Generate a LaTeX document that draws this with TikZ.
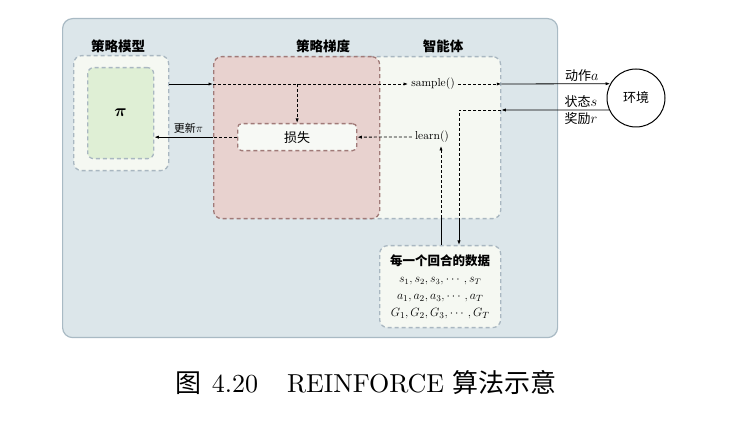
\documentclass[tikz,border=0pt]{standalone}
\usepackage{fontspec}
\usepackage{amsmath}
\newfontfamily\cjk{Noto Sans CJK SC}
\newfontfamily\capfont{lmroman10-regular.otf}
\usetikzlibrary{positioning, arrows.meta}

\definecolor{panelbg}{HTML}{DCE6EA}
\definecolor{panelline}{HTML}{A9BAC4}
\definecolor{lightbg}{HTML}{F5F8F2}
\definecolor{greenbg}{HTML}{DFEFD5}
\definecolor{pinkbg}{HTML}{E8D2CF}
\definecolor{brownline}{HTML}{A07A78}
\definecolor{grayline}{HTML}{A9B7C1}
\definecolor{lossbg}{HTML}{F7F9F5}

% math letters a bit larger than the CJK text around them
\newcommand{\symb}[1]{{\fontsize{15}{15}\selectfont$#1$}}

\begin{document}
\begin{tikzpicture}[
    x=1pt, y=-1pt,
    >={Latex[length=4.5pt, width=3.2pt]},
    panel/.style={rectangle, draw=panelline, fill=panelbg, line width=1.2pt,
                  rounded corners=10pt, anchor=north west, inner sep=0pt},
    region/.style={rectangle, draw, dashed, dash pattern=on 4pt off 3pt,
                   line width=1.3pt, rounded corners=8pt,
                   anchor=north west, inner sep=0pt},
    title/.style={font=\cjk\bfseries\fontsize{13.5}{16}\selectfont},
    lbl/.style={font=\cjk\fontsize{13}{15}\selectfont, inner sep=2pt},
    func/.style={font=\capfont\fontsize{11.5}{13}\selectfont, inner sep=3pt},
    flow/.style={line width=0.8pt},
    dashline/.style={flow, dash pattern=on 3pt off 2pt}
]
  \useasboundingbox (0,0) rectangle (745,443);

  % Frame
  \node[panel, minimum width=495pt, minimum height=319pt] (frame) at (62,18) {};

  % Policy model
  \node[region, draw=grayline, fill=lightbg,
        minimum width=95pt, minimum height=115pt] (model) at (73,55) {};
  \node[region, draw=grayline, fill=greenbg, rounded corners=6pt,
        minimum width=66pt, minimum height=91pt,
        font=\fontsize{17}{17}\selectfont] (policy) at (87,67) {$\boldsymbol{\pi}$};

  % Agent and policy gradient
  \node[region, draw=grayline, fill=lightbg,
        minimum width=170pt, minimum height=162pt] (agent) at (330,56) {};
  \node[region, draw=brownline, fill=pinkbg,
        minimum width=166pt, minimum height=162pt] (grad) at (213,56) {};
  \node[region, draw=brownline, fill=lossbg, rounded corners=4pt,
        minimum width=119pt, minimum height=27pt, lbl] (loss) at (237,123) {损失};

  % Titles
  \node[title] (modelt) at (118,46) {策略模型};
  \node[title] (gradt) at (323,46) {策略梯度};
  \node[title] (agentt) at (443,46) {智能体};

  % Agent methods
  \node[func] (sample) at (433,84) {sample()};
  \node[func] (learn) at (432,137) {learn()};

  % Environment
  \node[circle, draw, line width=1pt, minimum size=58pt, lbl] (env) at (636,98) {环境};

  % Episode data
  \node[region, draw=grayline, fill=lightbg,
        minimum width=121pt, minimum height=82pt, align=center,
        font=\fontsize{13}{17}\selectfont] (data) at (379,245)
    {{\cjk\bfseries\fontsize{12.5}{17}\selectfont 每一个回合的数据}\\
     {\fontsize{11.5}{17}\selectfont $s_1,s_2,s_3,\cdots,s_T$}\\
     $a_1,a_2,a_3,\cdots,a_T$\\
     $G_1,G_2,G_3,\cdots,G_T$};

  % Helper points
  \coordinate (obs) at (agent.east |- 0,110);
  \coordinate (bend) at (459,110);
  \coordinate (gate) at (bend |- agent.south);
  \coordinate (upgate) at (441,218);

  % Arrows
  \draw[flow, ->] (model.east |- sample) -- (grad.west |- sample);
  \draw[dashline, ->] (grad.west |- sample) -- (sample.west);
  \draw[dashline, ->] (sample.east) -- (agent.east |- sample);
  \draw[flow, ->] (agent.east |- sample) -- (env.151)
    node[pos=0.74, above, lbl] {动作\symb{a}};
  \draw[flow, ->] (env.204) -- (obs)
    node[pos=0.26, above, lbl] {状态\symb{s}}
    node[pos=0.26, below, lbl] {奖励\symb{r}};
  \draw[dashline] (obs) -- (bend) -- (gate);
  \draw[flow, ->] (gate) -- (gate |- data.north);
  \draw[flow] (upgate |- data.north) -- (upgate);
  \draw[dashline, ->] (upgate) -- (upgate |- learn.south);
  \draw[dashline, ->] (learn.west) -- (loss.east);
  \draw[dashline, ->] (loss.north |- sample) -- (loss.north);
  \draw[dashline] (loss.west) -- (grad.west |- loss);
  \draw[flow, ->] (grad.west |- loss) -- (policy.east |- loss)
    node[pos=0.42, above, font=\cjk\fontsize{11}{13}\selectfont] {更新{\fontsize{13}{13}\selectfont$\pi$}};

  % Caption
  \node[font=\capfont\fontsize{26}{30}\selectfont] (caption) at (366,383)
    {{\cjk 图}\hspace{10pt}4.20\hspace{29pt}REINFORCE\hspace{8pt}{\cjk 算法示意}};
\end{tikzpicture}
\end{document}
